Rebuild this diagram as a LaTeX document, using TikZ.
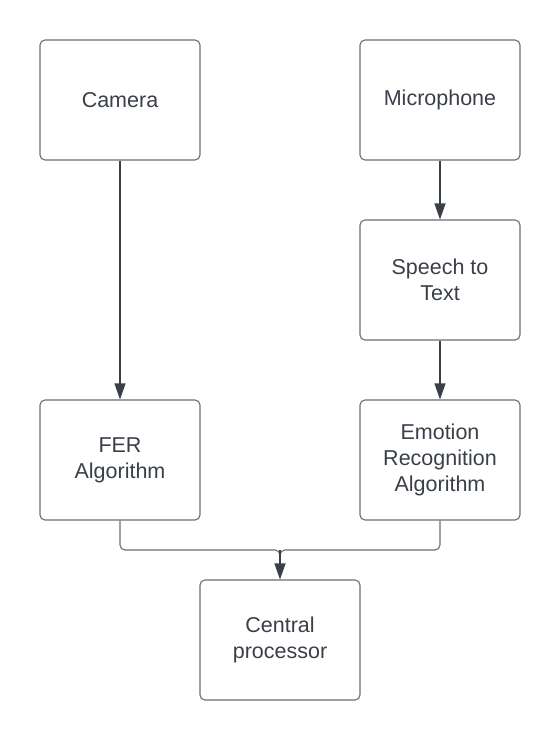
\documentclass[tikz,border=0pt]{standalone}
\usepackage{fontspec}
\setmainfont{Liberation Sans}
\usetikzlibrary{arrows.meta}
\definecolor{txt}{HTML}{3A3F48}
\definecolor{edge}{HTML}{6B6E73}
\definecolor{arr}{HTML}{3A3F48}
\tikzset{
  blk/.style={draw=edge, line width=1.1pt, rounded corners=5pt, minimum width=160pt, minimum height=120pt, align=center, text=txt, font=\fontsize{21.5}{26}\selectfont, inner sep=0pt},
  conn/.style={draw=arr, line width=1.1pt, -{Triangle[length=16pt,width=11pt]}},
  plain/.style={draw=edge, line width=1.1pt}
}
\begin{document}
\begin{tikzpicture}[x=1pt,y=-1pt]
\useasboundingbox[fill=white] (0,0) rectangle (560,740);
\node[blk] (cam) at (120,100) {Camera};
\node[blk] (mic) at (440,100) {Microphone};
\node[blk] (stt) at (440,280) {Speech to\\Text};
\node[blk] (fer) at (120,460) {FER\\Algorithm};
\node[blk] (era) at (440,460) {Emotion\\Recognition\\Algorithm};
\node[blk] (cpu) at (280,640) {Central\\processor};
\coordinate (m) at (280,550);
\draw[conn] (cam) -- (fer);
\draw[conn] (mic) -- (stt);
\draw[conn] (stt) -- (era);
\draw[plain, rounded corners=5pt] (fer.south) |- (m) -- ++(0,8);
\draw[plain, rounded corners=5pt] (era.south) |- (m) -- ++(0,8);
\draw[conn] (m) -- (cpu.north);
\end{tikzpicture}
\end{document}
